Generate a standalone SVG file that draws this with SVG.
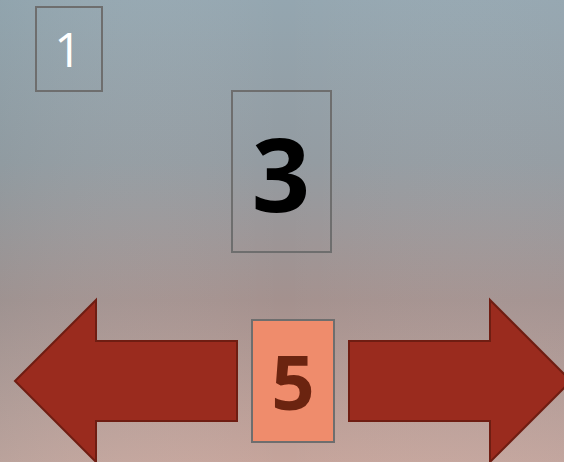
<svg xmlns="http://www.w3.org/2000/svg" width="564" height="462" viewBox="0 0 564 462">
<defs>
<linearGradient id="bg" x1="0" y1="0" x2="0" y2="1">
<stop offset="0" stop-color="#94a6b0"/>
<stop offset="0.35" stop-color="#939ba1"/>
<stop offset="0.65" stop-color="#a4918e"/>
<stop offset="1" stop-color="#c5a49b"/>
</linearGradient>
<linearGradient id="bgh" x1="0" y1="0" x2="1" y2="0">
<stop offset="0" stop-color="#7f9aa0" stop-opacity="0.15"/>
<stop offset="0.5" stop-color="#ffffff" stop-opacity="0"/>
<stop offset="1" stop-color="#b0b8c0" stop-opacity="0.1"/>
</linearGradient>
</defs>
<style>
.box{fill:none;stroke:#6e6e6e;stroke-width:2}
.arrow{fill:#9a2b1e;stroke:#6f1d12;stroke-width:2;stroke-linejoin:miter}
.num{font-family:"Open Sans","Noto Sans","Liberation Sans",sans-serif;text-anchor:middle}
</style>
<rect width="564" height="462" fill="url(#bg)"/>
<rect width="564" height="462" fill="url(#bgh)"/>
<g id="node1">
<rect class="box" x="36" y="7" width="66" height="84"/>
<text class="num" x="68" y="67" font-size="48" fill="#ffffff">1</text>
</g>
<g id="node3">
<rect class="box" x="232" y="91" width="99" height="161"/>
<text class="num" x="281" y="212" font-size="102" font-weight="bold" fill="#000000">3</text>
</g>
<g id="connectors">
<path class="arrow" d="M15,381 L96,300 L96,341 L237,341 L237,421 L96,421 L96,462 Z"/>
<path class="arrow" d="M571,381 L490,300 L490,341 L349,341 L349,421 L490,421 L490,462 Z"/>
</g>
<g id="node5">
<rect x="252" y="320" width="82" height="122" fill="#ef8c6c" stroke="#6e6e6e" stroke-width="2"/>
<text class="num" x="293" y="410" font-size="76" font-weight="bold" fill="#6b2410">5</text>
</g>
</svg>
